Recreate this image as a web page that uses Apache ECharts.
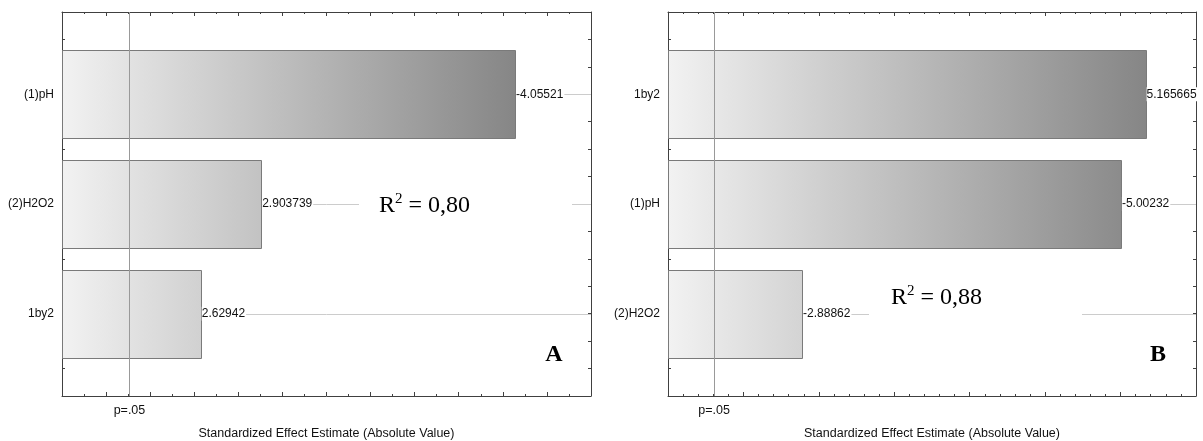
<!DOCTYPE html>
<html>
<head>
<meta charset="utf-8">
<script src="https://cdn.jsdelivr.net/npm/echarts@6/dist/echarts.min.js"></script>
<style>
html,body{margin:0;padding:0;background:#fff;}
#chart{width:1203px;height:441px;}
</style>
</head>
<body>
<div id="chart"></div>
<script>
// ---- data ----
const categoriesA = ['(1)pH', '(2)H2O2', '1by2'];
const effectsA = [-4.05521, 2.903739, 2.62942];
const categoriesB = ['1by2', '(1)pH', '(2)H2O2'];
const effectsB = [5.165665, -5.00232, -2.88862];
const pCritical = 2.306;
const pLabel = 'p=.05';
const r2Labels = ['0,80', '0,88'];
const panelLetters = ['A', 'B'];
const xAxisTitle = 'Standardized Effect Estimate (Absolute Value)';

const SANS = '"Liberation Sans", Arial, sans-serif';
const SERIF = '"Liberation Serif", "Times New Roman", serif';
const AXIS_COLOR = '#404040';
const Y_MIN = -0.75, Y_MAX = 2.75;

const chart = echarts.init(document.getElementById('chart'), null, {renderer: 'canvas'});

function xAxes(gridIndex, min, max, interval, split) {
  const base = {
    type: 'value', gridIndex, min, max, interval,
    axisLine: {show: true, onZero: false, lineStyle: {color: AXIS_COLOR, width: 1}},
    axisTick: {show: true, inside: true, length: 4, lineStyle: {color: AXIS_COLOR}},
    minorTick: {show: true, splitNumber: split, length: 2, lineStyle: {color: AXIS_COLOR}},
    splitLine: {show: false}, minorSplitLine: {show: false}
  };
  return [
    Object.assign({}, base, {
      position: 'bottom',
      axisLabel: {show: true, customValues: [pCritical], formatter: () => pLabel,
        margin: 8, fontSize: 12.5, color: '#111', fontFamily: SANS},
      name: xAxisTitle, nameLocation: 'middle', nameGap: 31,
      nameTextStyle: {fontSize: 12.5, color: '#111', fontFamily: SANS}
    }),
    Object.assign({}, base, {position: 'top', axisLabel: {show: false}})
  ];
}

function yAxes(gridIndex, cats) {
  const base = {
    type: 'value', gridIndex, inverse: true, min: Y_MIN, max: Y_MAX, interval: 0.25,
    axisLine: {show: true, onZero: false, lineStyle: {color: AXIS_COLOR, width: 1}},
    axisTick: {show: true, inside: true, length: 3, lineStyle: {color: AXIS_COLOR}},
    splitLine: {show: false}
  };
  return [
    Object.assign({}, base, {
      position: 'left',
      axisLabel: {show: true, customValues: cats.map((c, i) => i),
        formatter: v => cats[Math.round(v)], margin: 8, fontSize: 12, color: '#111', fontFamily: SANS}
    }),
    Object.assign({}, base, {position: 'right', axisLabel: {show: false}})
  ];
}

function panelSeries(axisIdx, cats, effects, xMin, xMax) {
  const maxAbs = Math.max(...effects.map(Math.abs));
  const guides = {
    type: 'custom', xAxisIndex: axisIdx, yAxisIndex: axisIdx, z: 1, silent: true,
    data: cats.map((c, i) => [xMin, i]),
    encode: {x: 0, y: 1},
    renderItem: (params, api) => {
      const i = api.value(1);
      const a = api.coord([xMin, i]);
      const b = api.coord([xMax, i]);
      const y = Math.round(a[1]) + 0.5;
      return {type: 'line', shape: {x1: a[0], y1: y, x2: b[0], y2: y},
        style: {stroke: '#cccccc', lineWidth: 1}};
    }
  };
  const bars = {
    type: 'custom', xAxisIndex: axisIdx, yAxisIndex: axisIdx, z: 2, silent: true,
    data: effects.map((v, i) => [Math.abs(v), i, v]),
    encode: {x: 0, y: 1},
    renderItem: (params, api) => {
      const len = api.value(0), i = api.value(1), raw = api.value(2);
      const s = api.coord([xMin, i]);
      const e = api.coord([len, i]);
      const g = api.coord([maxAbs, i]);
      const h = api.size([0, 0.8])[1];
      const top = Math.round(s[1] - h / 2) + 0.5;
      const grad = new echarts.graphic.LinearGradient(s[0], 0, g[0], 0, [
        {offset: 0, color: '#f2f2f2'},
        {offset: 1, color: '#868686'}
      ], true);
      return {
        type: 'group',
        children: [
          {type: 'rect', shape: {x: Math.round(s[0]) + 0.5, y: top, width: Math.round(e[0] - s[0]), height: Math.round(h)},
            style: {fill: grad, stroke: '#7a7a7a', lineWidth: 1}},
          {type: 'text', x: e[0] + 1, y: s[1],
            style: {text: String(raw), fill: '#111', font: '12px ' + SANS,
              verticalAlign: 'middle', align: 'left', backgroundColor: '#fff', padding: [1, 1, 1, 0]}}
        ]
      };
    }
  };
  const pline = {
    type: 'custom', xAxisIndex: axisIdx, yAxisIndex: axisIdx, z: 3, silent: true,
    data: [[pCritical, 0]],
    encode: {x: 0, y: 1},
    renderItem: (params, api) => {
      const a = api.coord([api.value(0), Y_MIN]);
      const b = api.coord([api.value(0), Y_MAX]);
      const x = Math.round(a[0]) + 0.5;
      return {type: 'line', shape: {x1: x, y1: a[1], x2: x, y2: b[1]},
        style: {stroke: '#999999', lineWidth: 1}};
    }
  };
  return [guides, bars, pline];
}

function r2Graphic(boxX, boxY, boxW, boxH, textX, cy, value) {
  return [
    {type: 'rect', z: 10, silent: true, shape: {x: boxX, y: boxY, width: boxW, height: boxH}, style: {fill: '#fff'}},
    {type: 'text', z: 11, silent: true, x: textX, y: cy,
      style: {
        text: '{r|R}{s|2}{r| = ' + value + '}',
        verticalAlign: 'middle',
        rich: {
          r: {fontFamily: SERIF, fontSize: 24, fill: '#000', verticalAlign: 'bottom', lineHeight: 26},
          s: {fontFamily: SERIF, fontSize: 15, fill: '#000', verticalAlign: 'top', lineHeight: 26, padding: [0, 0, 9, 0]}
        }
      }}
  ];
}

const option = {
  backgroundColor: '#fff',
  animation: false,
  grid: [
    {left: 62, top: 12, width: 529, height: 384, containLabel: false, outerBoundsMode: 'none'},
    {left: 668, top: 12, width: 528, height: 384, containLabel: false, outerBoundsMode: 'none'}
  ],
  xAxis: [...xAxes(0, 2.0, 4.4, 0.2, 2), ...xAxes(1, 2.0, 5.5, 0.5, 5)],
  yAxis: [...yAxes(0, categoriesA), ...yAxes(1, categoriesB)],
  series: [
    ...panelSeries(0, categoriesA, effectsA, 2.0, 4.4),
    ...panelSeries(2, categoriesB, effectsB, 2.0, 5.5)
  ],
  graphic: [
    ...r2Graphic(359, 190, 213, 28, 379, 205, r2Labels[0]),
    ...r2Graphic(869, 282, 213, 36, 891, 297, r2Labels[1]),
    {type: 'text', z: 11, silent: true, x: 554, y: 355,
      style: {text: panelLetters[0], font: 'bold 24px ' + SERIF, fill: '#000', align: 'center', verticalAlign: 'middle'}},
    {type: 'text', z: 11, silent: true, x: 1158, y: 355,
      style: {text: panelLetters[1], font: 'bold 24px ' + SERIF, fill: '#000', align: 'center', verticalAlign: 'middle'}}
  ]
};
chart.setOption(option);
</script>
</body>
</html>
